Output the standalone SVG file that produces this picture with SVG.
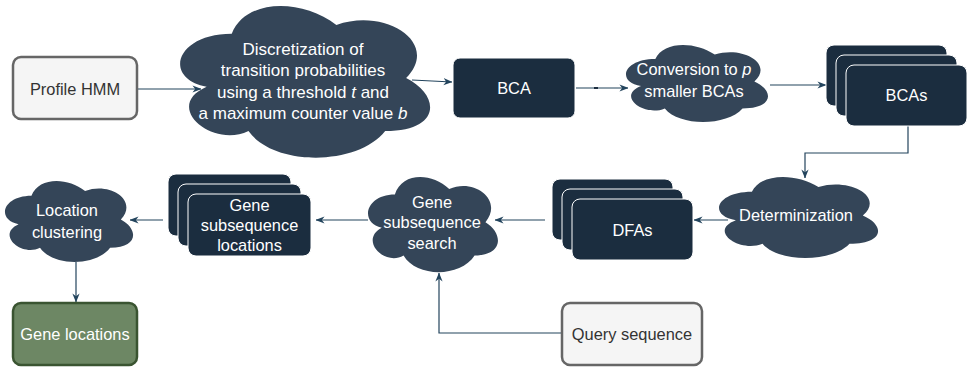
<svg xmlns="http://www.w3.org/2000/svg" width="969" height="370" viewBox="0 0 969 370">
  <defs>
    <style>
      .lbl { font-family: "Liberation Sans", Arial, Helvetica, sans-serif; font-size: 16.4px; text-anchor: middle; }
      .big { font-size: 17px; }
      .light { fill: #ffffff; }
      .darktxt { fill: #333333; }
      .cloud { fill: #344558; }
      .box { fill: #1b2d3f; stroke: #ffffff; stroke-width: 1; }
      .input { fill: #f5f5f5; stroke: #666666; stroke-width: 2.5; }
      .result { fill: #6d8764; stroke: #3a5431; stroke-width: 2.5; }
      .edge { fill: none; stroke: #23445d; stroke-width: 1.2; marker-end: url(#arrow); }
    </style>
    <marker id="arrow" viewBox="0 0 10 10" refX="9.5" refY="5" markerWidth="9" markerHeight="9" markerUnits="userSpaceOnUse" orient="auto">
      <path d="M0,1 L10,5 L0,9 L3,5 Z" fill="#23445d"/>
    </marker>
    <!-- unit cloud outline, scaled per node -->
    <path id="cloudShape" d="M0.25,0.25 C0.05,0.25 0,0.5 0.16,0.55 C0,0.66 0.18,0.9 0.31,0.8 C0.4,1 0.7,1 0.8,0.8 C1,0.8 1,0.6 0.875,0.5 C1,0.3 0.8,0.1 0.625,0.2 C0.5,0.05 0.3,0.05 0.25,0.25 Z"/>
  </defs>

  <rect width="969" height="370" fill="#ffffff"/>

  <!-- connectors -->
  <g id="connectors">
    <path class="edge" d="M137,89 L201,89"/>
    <path class="edge" d="M412,80 L452,82"/>
    <path class="edge" d="M576,88 L628,88"/>
    <rect x="594" y="87" width="4" height="2" fill="#1b2d3f"/>
    <path class="edge" d="M770,85 L826,85"/>
    <path class="edge" d="M908,126 V153 H805 V178"/>
    <path class="edge" d="M728,220 L694,220"/>
    <path class="edge" d="M545,220 L495,220"/>
    <path class="edge" d="M368,220 L316,220"/>
    <path class="edge" d="M163,220 L130,220"/>
    <path class="edge" d="M76,262 L76,302"/>
    <path class="edge" d="M562,333 H439 V273"/>
  </g>

  <!-- Profile HMM -->
  <g id="profile-hmm">
    <rect class="input" x="13" y="57" width="124" height="62" rx="8"/>
    <text class="lbl darktxt" x="75" y="94.5">Profile HMM</text>
  </g>

  <!-- Discretization step -->
  <g id="discretization">
    <use href="#cloudShape" class="cloud" transform="translate(162,-10.5) scale(279,177)"/>
    <text class="lbl big light" x="303" y="54.5">Discretization of</text>
    <text class="lbl big light" x="303" y="76">transition probabilities</text>
    <text class="lbl big light" x="303" y="97.5">using a threshold <tspan font-style="italic">t</tspan> and</text>
    <text class="lbl big light" x="303" y="119">a maximum counter value <tspan font-style="italic">b</tspan></text>
  </g>

  <!-- BCA -->
  <g id="bca">
    <rect class="box" x="453" y="58" width="122" height="60" rx="7"/>
    <text class="lbl light" x="514" y="93.5">BCA</text>
  </g>

  <!-- Conversion step -->
  <g id="conversion">
    <use href="#cloudShape" class="cloud" transform="translate(615.7,36.6) scale(158.5,89.8)"/>
    <text class="lbl light" x="694" y="75">Conversion to <tspan font-style="italic">p</tspan></text>
    <text class="lbl light" x="694" y="96.5">smaller BCAs</text>
  </g>

  <!-- BCAs stack -->
  <g id="bcas">
    <rect class="box" x="826" y="45" width="121" height="61" rx="8"/>
    <rect class="box" x="836" y="55" width="121" height="61" rx="8"/>
    <rect class="box" x="846" y="65" width="121" height="61" rx="8"/>
    <text class="lbl light" x="906.5" y="101">BCAs</text>
  </g>

  <!-- Determinization step -->
  <g id="determinization">
    <use href="#cloudShape" class="cloud" transform="translate(707.5,168.2) scale(177.5,94.5)"/>
    <text class="lbl light" x="796" y="221">Determinization</text>
  </g>

  <!-- DFAs stack -->
  <g id="dfas">
    <rect class="box" x="552" y="179" width="121" height="61" rx="8"/>
    <rect class="box" x="562" y="189" width="121" height="61" rx="8"/>
    <rect class="box" x="572" y="199" width="121" height="61" rx="8"/>
    <text class="lbl light" x="632.5" y="235.5">DFAs</text>
  </g>

  <!-- Gene subsequence search step -->
  <g id="subsequence-search">
    <use href="#cloudShape" class="cloud" transform="translate(358.6,166.7) scale(145,111)"/>
    <text class="lbl light" x="432" y="208">Gene</text>
    <text class="lbl light" x="432" y="228">subsequence</text>
    <text class="lbl light" x="432" y="248.5">search</text>
  </g>

  <!-- Gene subsequence locations stack -->
  <g id="subsequence-locations">
    <rect class="box" x="168" y="174" width="123" height="62" rx="8"/>
    <rect class="box" x="178" y="184" width="123" height="62" rx="8"/>
    <rect class="box" x="188" y="194" width="123" height="62" rx="8"/>
    <text class="lbl light" x="249.5" y="211">Gene</text>
    <text class="lbl light" x="249.5" y="231">subsequence</text>
    <text class="lbl light" x="249.5" y="251">locations</text>
  </g>

  <!-- Location clustering step -->
  <g id="location-clustering">
    <use href="#cloudShape" class="cloud" transform="translate(-4.3,172.2) scale(143,94.5)"/>
    <text class="lbl light" x="67" y="215.5">Location</text>
    <text class="lbl light" x="67" y="237.5">clustering</text>
  </g>

  <!-- Gene locations -->
  <g id="gene-locations">
    <rect class="result" x="13" y="303" width="124" height="62" rx="8"/>
    <text class="lbl light" x="75" y="340">Gene locations</text>
  </g>

  <!-- Query sequence -->
  <g id="query-sequence">
    <rect class="input" x="562" y="303" width="140" height="62" rx="8"/>
    <text class="lbl darktxt" x="632" y="340">Query sequence</text>
  </g>
</svg>
